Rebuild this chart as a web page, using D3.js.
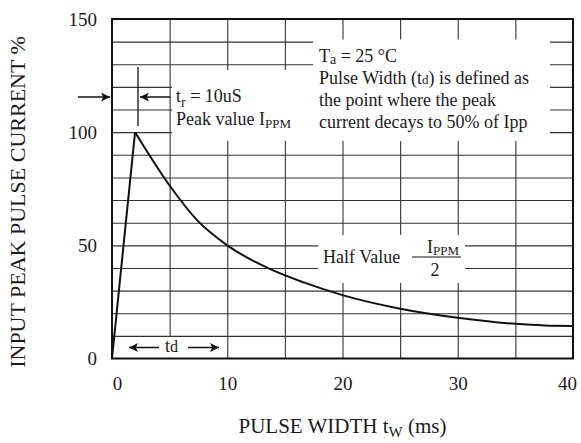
<!DOCTYPE html>
<html>
<head>
<meta charset="utf-8">
<script src="https://cdn.jsdelivr.net/npm/d3@7"></script>
<style>
  body { margin: 0; background: #fff; }
  svg { display: block; }
  text { font-family: "Liberation Serif", "Times New Roman", serif; fill: #1a1a1a; }
</style>
</head>
<body>
<script>
// ---- data ----
const xTicks = [0, 10, 20, 30, 40];
const yTicks = [0, 50, 100, 150];
const xGrid = [5, 10, 15, 20, 25, 30, 35];
const yGrid = [10, 20, 30, 40, 50, 60, 70, 80, 90, 100, 110, 120, 130, 140];
const riseX = [0, 2];
const riseY = [0, 100];
const decayX = [2, 5.2, 7.4, 10, 13.5, 16.7, 20, 25, 30, 35, 37.5, 40];
const decayY = [100, 75, 61, 50, 40, 33.5, 28, 22, 18, 15.3, 14.6, 14.4];

// ---- layout ----
const W = 581, H = 443;
const L = 112, R = 573, T = 19, B = 358.5;
const svg = d3.select("body").append("svg").attr("width", W).attr("height", H);
const x = d3.scaleLinear().domain([0, 40]).range([L, R]);
const y = d3.scaleLinear().domain([0, 150]).range([B, T]);

const defs = svg.append("defs");
defs.append("marker").attr("id", "ah").attr("viewBox", "0 0 10 10")
  .attr("refX", 10).attr("refY", 5).attr("markerUnits", "userSpaceOnUse")
  .attr("markerWidth", 11).attr("markerHeight", 9).attr("orient", "auto")
  .append("path").attr("d", "M0,0 L10,5 L0,10 L2.5,5 z").attr("fill", "#111");

// ---- grid ----
const gx = svg.append("g").attr("transform", `translate(0,${B})`)
  .call(d3.axisBottom(x).tickValues(xGrid).tickSize(-(B - T)).tickFormat(""));
gx.select(".domain").remove();
gx.selectAll("line").attr("stroke", "#333").attr("stroke-width", 1.1);
const gy = svg.append("g").attr("transform", `translate(${L},0)`)
  .call(d3.axisLeft(y).tickValues(yGrid).tickSize(-(R - L)).tickFormat(""));
gy.select(".domain").remove();
gy.selectAll("line").attr("stroke", "#333").attr("stroke-width", 1.1);

// ---- white label boxes ----
const boxes = [
  [172, 70, 141, 71],
  [313, 39.5, 237, 101.5],
  [318, 235, 147, 48],
  [124, 337, 100, 20.5]
];
svg.append("g").selectAll("rect").data(boxes).join("rect")
  .attr("x", d => d[0]).attr("y", d => d[1]).attr("width", d => d[2]).attr("height", d => d[3])
  .attr("fill", "#fff");

// ---- frame ----
svg.append("rect").attr("x", L).attr("y", T).attr("width", R - L).attr("height", B - T)
  .attr("fill", "none").attr("stroke", "#111").attr("stroke-width", 2);

// ---- curve ----
const line = d3.line().x(d => x(d[0])).y(d => y(d[1]));
svg.append("path").datum(riseX.map((v, i) => [v, riseY[i]]))
  .attr("d", line).attr("fill", "none").attr("stroke", "#111").attr("stroke-width", 2);
svg.append("path").datum(decayX.map((v, i) => [v, decayY[i]]))
  .attr("d", line.curve(d3.curveMonotoneX)).attr("fill", "none").attr("stroke", "#111").attr("stroke-width", 2);

// ---- tick labels ----
const ax = svg.append("g").attr("transform", `translate(0,${B})`)
  .call(d3.axisBottom(x).tickValues(xTicks).tickSize(0).tickPadding(18));
ax.select(".domain").remove();
ax.selectAll("text").attr("font-size", 19).attr("font-family", "Liberation Serif")
  .attr("dx", d => d === 0 ? 5 : (d === 40 ? -6 : 0));
const ay = svg.append("g").attr("transform", `translate(${L},0)`)
  .call(d3.axisLeft(y).tickValues(yTicks).tickSize(0).tickPadding(15));
ay.select(".domain").remove();
ay.selectAll("text").attr("font-size", 19).attr("font-family", "Liberation Serif");

// ---- axis titles ----
const xt = svg.append("text").attr("x", (L + R) / 2).attr("y", 433)
  .attr("text-anchor", "middle").attr("font-size", 21);
xt.append("tspan").text("PULSE WIDTH t");
xt.append("tspan").attr("font-size", 15).attr("dy", 4).text("W");
xt.append("tspan").attr("dy", -4).text(" (ms)");

svg.append("text").attr("transform", "translate(25,202) rotate(-90)")
  .attr("text-anchor", "middle").attr("font-size", 22)
  .text("INPUT PEAK PULSE CURRENT %");

// ---- tr annotation ----
const aStroke = (sel) => sel.attr("stroke", "#111").attr("stroke-width", 1.5).attr("marker-end", "url(#ah)");
svg.append("line").attr("x1", 138).attr("x2", 138).attr("y1", 67).attr("y2", 126)
  .attr("stroke", "#111").attr("stroke-width", 1.3);
svg.append("line").attr("x1", 78).attr("x2", 110).attr("y1", 97).attr("y2", 97).call(aStroke);
svg.append("line").attr("x1", 170).attr("x2", 140).attr("y1", 97).attr("y2", 97).call(aStroke);

const t1 = svg.append("text").attr("x", 176).attr("y", 102).attr("font-size", 18);
t1.append("tspan").text("t");
t1.append("tspan").attr("font-size", 14).attr("dy", 5).text("r");
t1.append("tspan").attr("dy", -5).text(" = 10uS");
const t2 = svg.append("text").attr("x", 176).attr("y", 125).attr("font-size", 18);
t2.append("tspan").text("Peak value I");
t2.append("tspan").attr("font-size", 13).attr("dy", 3).text("PPM");

// ---- Ta annotation ----
const b1 = svg.append("text").attr("x", 319).attr("y", 62).attr("font-size", 18);
b1.append("tspan").text("T");
b1.append("tspan").attr("font-size", 14).attr("dy", 2).text("a");
b1.append("tspan").attr("dy", -2).text(" = 25 °C");
const b2 = svg.append("text").attr("x", 319).attr("y", 84).attr("font-size", 18);
b2.append("tspan").text("Pulse Width (t");
b2.append("tspan").attr("font-size", 13).text("d");
b2.append("tspan").text(") is defined as");
svg.append("text").attr("x", 319).attr("y", 106).attr("font-size", 18).text("the point where the peak");
svg.append("text").attr("x", 319).attr("y", 128).attr("font-size", 18).text("current decays to 50% of Ipp");

// ---- half value ----
svg.append("text").attr("x", 323).attr("y", 263).attr("font-size", 18).text("Half Value");
const fr = svg.append("text").attr("x", 427).attr("y", 253).attr("font-size", 18);
fr.append("tspan").text("I");
fr.append("tspan").attr("font-size", 13).attr("dy", 2).text("PPM");
svg.append("line").attr("x1", 412).attr("x2", 461).attr("y1", 257).attr("y2", 257)
  .attr("stroke", "#111").attr("stroke-width", 1.1);
svg.append("text").attr("x", 435).attr("y", 276).attr("text-anchor", "middle").attr("font-size", 18).text("2");

// ---- td annotation ----
svg.append("line").attr("x1", 159).attr("x2", 129).attr("y1", 347.5).attr("y2", 347.5).call(aStroke);
svg.append("line").attr("x1", 188).attr("x2", 219).attr("y1", 347.5).attr("y2", 347.5).call(aStroke);
const td = svg.append("text").attr("x", 165).attr("y", 352).attr("font-size", 18);
td.append("tspan").text("t");
td.append("tspan").attr("font-size", 16).text("d");
</script>
</body>
</html>
